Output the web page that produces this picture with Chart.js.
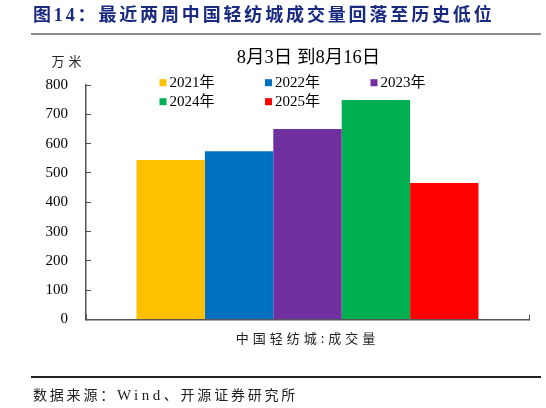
<!DOCTYPE html>
<html><head><meta charset="utf-8">
<script src="https://cdn.jsdelivr.net/npm/chart.js@4.4.1/dist/chart.umd.min.js"></script>
<style>
html,body{margin:0;padding:0;background:#fff;}
#wrap{position:relative;width:546px;height:408px;overflow:hidden;background:#fff;}
#c{position:absolute;left:0;top:0;width:546px;height:408px;}
#hd{position:absolute;left:33px;top:5px;font:bold 18px/20px "Liberation Serif","Noto Sans CJK SC",serif;letter-spacing:2.85px;color:#1a2a80;white-space:nowrap;}
#hr1{position:absolute;left:31px;top:33px;width:510px;height:2px;background:#8c8c8c;}
#hr2{position:absolute;left:31px;top:376px;width:510px;height:2px;background:#222;}
#ft{position:absolute;left:33px;top:386px;font:14px/18px "Liberation Serif","Noto Sans CJK SC",serif;letter-spacing:2.8px;color:#222;white-space:nowrap;}
#ft span{font-size:15px;letter-spacing:3.5px;}
</style></head>
<body><div id="wrap">
<canvas id="c" width="546" height="408"></canvas>
<div id="hd">图14：最近两周中国轻纺城成交量回落至历史低位</div>
<div id="hr1"></div><div id="hr2"></div>
<div id="ft">数据来源：<span>Wind</span>、开源证券研究所</div>
</div>
<script>
// ---- data ----
const categories = ['中国轻纺城:成交量'];
const seriesLabels = ['2021年', '2022年', '2023年', '2024年', '2025年'];
const values2021 = [544];
const values2022 = [574];
const values2023 = [650];
const values2024 = [749];
const values2025 = [466];
const yTicks = [0, 100, 200, 300, 400, 500, 600, 700, 800];
const chartSubtitle = '8月3日 到8月16日';
const unitLabel = '万米';
const seriesColors = ['#FFC000', '#0070C0', '#7030A0', '#00B050', '#FF0000'];

const seriesValues = [values2021, values2022, values2023, values2024, values2025];

function spacedText(ctx, text, x, y, spacing, align) {
  const has = ('letterSpacing' in ctx);
  if (has) ctx.letterSpacing = spacing + 'px';
  let w = ctx.measureText(text).width;
  if (has && spacing) w -= spacing;
  let sx = x;
  if (align === 'center') sx = x - w / 2;
  else if (align === 'right') sx = x - w;
  ctx.textAlign = 'left';
  ctx.fillText(text, sx, y);
  if (has) ctx.letterSpacing = '0px';
}

const decorPlugin = {
  id: 'decor',
  beforeDraw(chart) {
    if ('letterSpacing' in chart.ctx) chart.ctx.letterSpacing = '0px';
  },
  afterDatasetsDraw(chart) {
    // x category label drawn after datasets (ticks.z = 1) with letter spacing
    if ('letterSpacing' in chart.ctx) chart.ctx.letterSpacing = '4px';
  },
  afterDraw(chart) {
    const ctx = chart.ctx;
    if ('letterSpacing' in ctx) ctx.letterSpacing = '0px';
    ctx.save();
    ctx.textBaseline = 'middle';
    ctx.fillStyle = '#000';
    ctx.font = '18.5px "Liberation Serif","Noto Sans CJK SC"';
    spacedText(ctx, chartSubtitle, 308.5, 58.5, 0, 'center');
    ctx.fillStyle = '#222';
    ctx.font = '13px "Noto Sans CJK SC"';
    spacedText(ctx, unitLabel, 66.5, 61, 4, 'center');
    ctx.font = '15px "Liberation Serif","Noto Sans CJK SC"';
    chart.data.datasets.forEach((ds, i) => {
      const col = i % 3, row = Math.floor(i / 3);
      const x = 159.5 + col * 105.5;
      const y = 82.7 + row * 19;
      ctx.fillStyle = ds.backgroundColor;
      ctx.fillRect(x, y - 3.5, 7, 7);
      ctx.fillStyle = '#000';
      spacedText(ctx, ds.label, x + 10, y, 0, 'left');
    });
    ctx.restore();
  }
};

new Chart(document.getElementById('c'), {
  type: 'bar',
  data: {
    labels: categories,
    datasets: seriesLabels.map((lab, i) => ({
      label: lab,
      data: seriesValues[i],
      backgroundColor: seriesColors[i],
      borderWidth: 0,
      categoryPercentage: 0.772,
      barPercentage: 1
    }))
  },
  options: {
    responsive: false,
    animation: false,
    devicePixelRatio: 1,
    events: [],
    layout: { padding: { left: 0, right: 17, top: 85, bottom: 58.5 } },
    plugins: { legend: { display: false }, title: { display: false }, tooltip: { enabled: false } },
    scales: {
      x: {
        type: 'category',
        offset: true,
        grid: { offset: true, drawOnChartArea: false, drawTicks: true, tickLength: -5, color: '#555', lineWidth: 1 },
        border: { display: true, color: '#555', width: 1.5, z: 1 },
        ticks: { z: 1, padding: 16, color: '#222', font: { family: '"Noto Sans CJK SC"', size: 13 }, maxRotation: 0, autoSkip: false },
        afterFit(s) { s.height = 30; }
      },
      y: {
        min: 0, max: 800,
        afterBuildTicks(s) { s.ticks = yTicks.map(v => ({ value: v })); },
        ticks: { padding: 23, color: '#000', font: { family: '"Liberation Serif"', size: 15 } },
        grid: { drawOnChartArea: false, drawTicks: true, tickLength: -5, color: '#555', lineWidth: 1 },
        border: { display: true, color: '#555', width: 1.5, z: 1 },
        afterFit(s) { s.width = 86; }
      }
    }
  },
  plugins: [decorPlugin]
});
</script>
</body></html>
